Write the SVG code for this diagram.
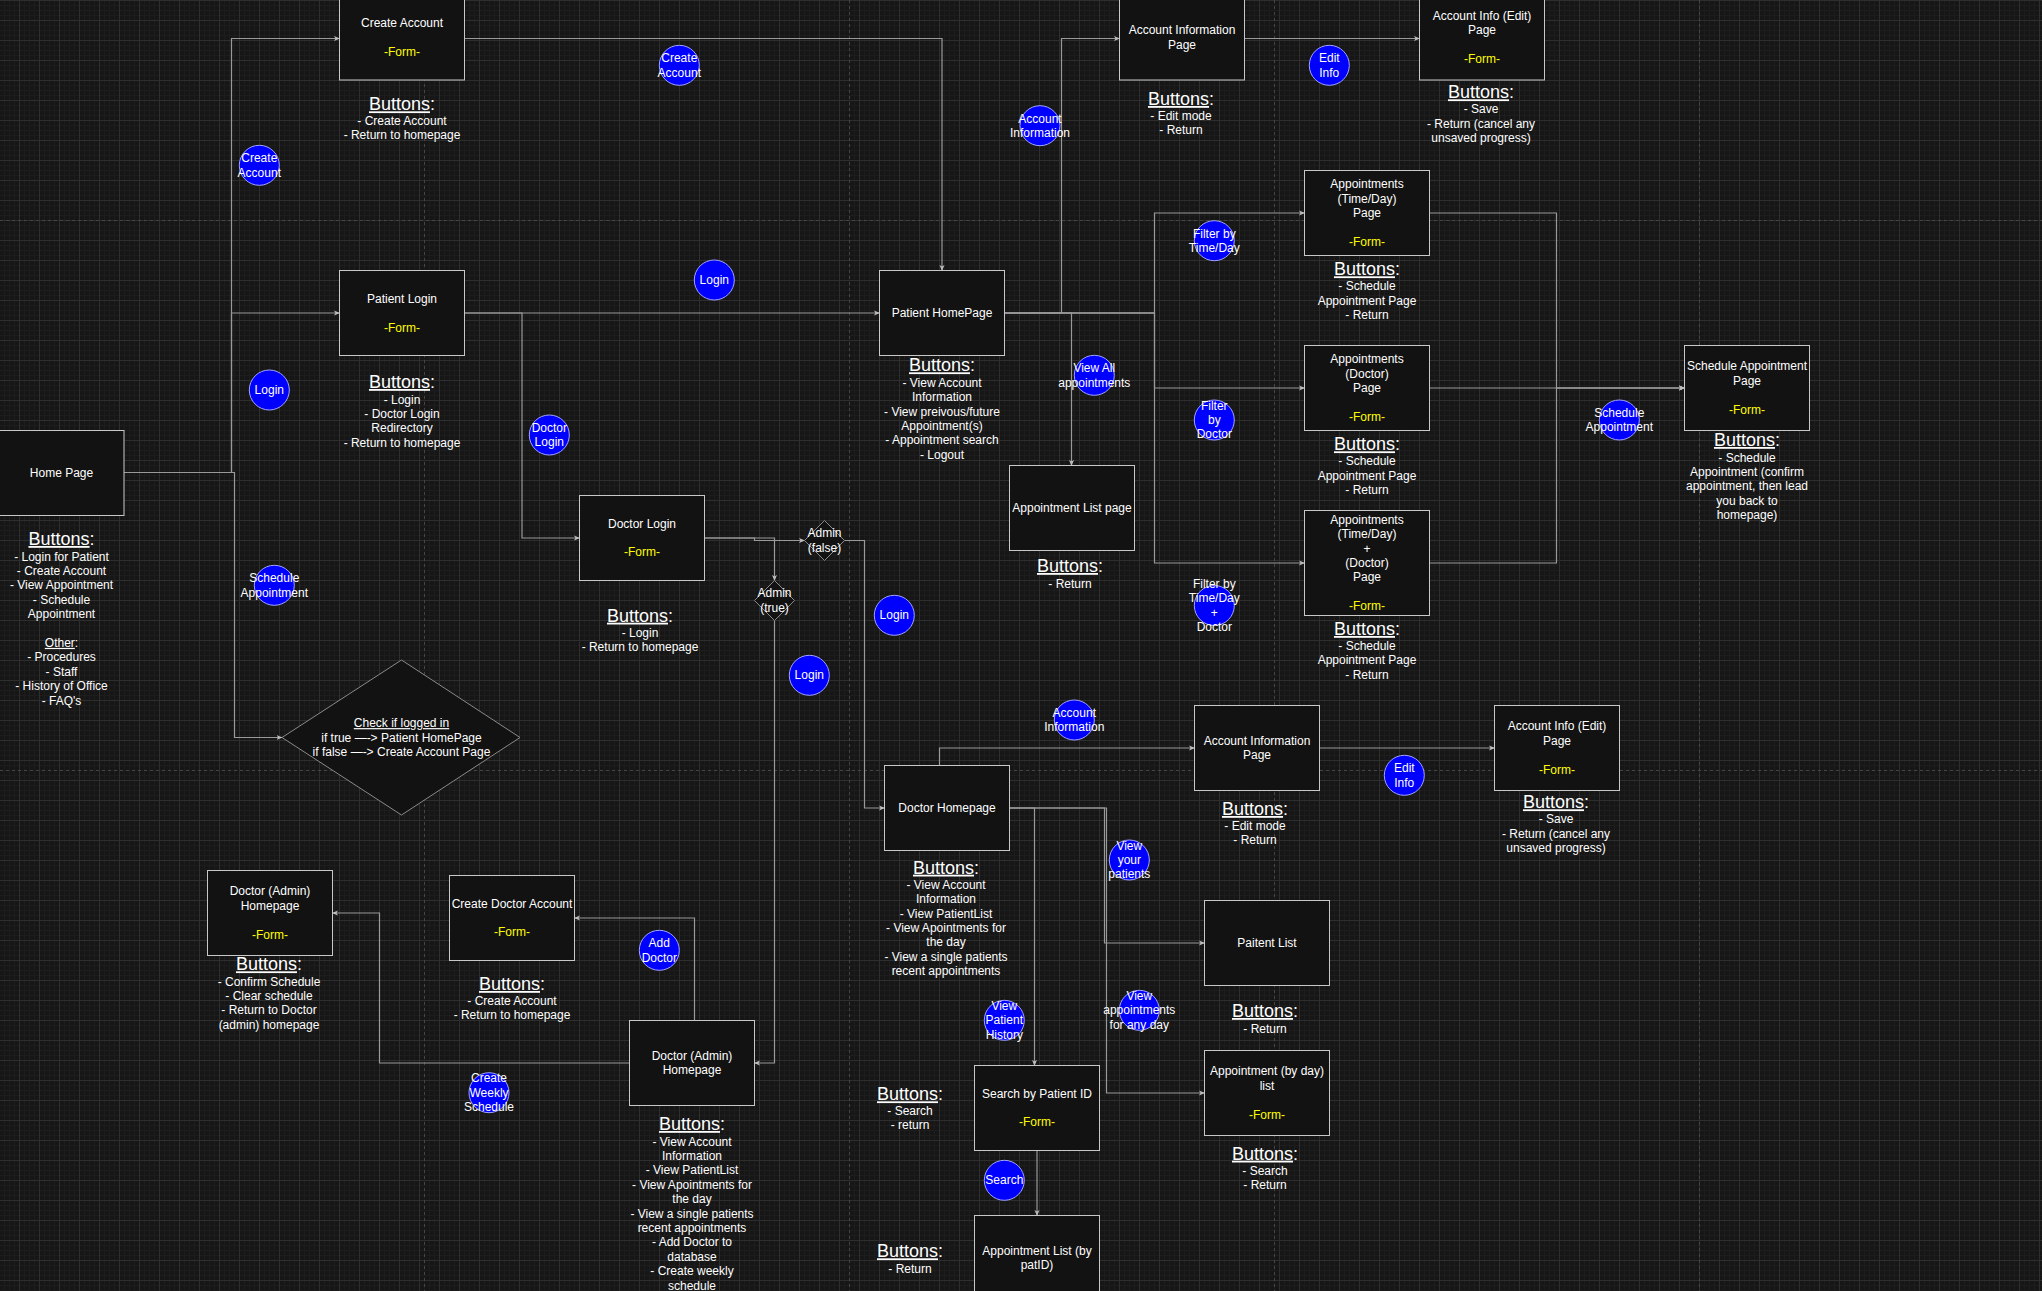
<svg xmlns="http://www.w3.org/2000/svg" width="2042" height="1291" viewBox="0 0 2042 1291">
<style>
.bx{fill:#121212;stroke:#c8c8c8;stroke-width:1}
.dm{fill:#121212;stroke:#8a8a8a;stroke-width:1}
.ci{fill:#0000ff;stroke:#a3a3ff;stroke-width:1}
.t{font-family:"Liberation Sans",Arial,sans-serif;font-size:12px;fill:#ffffff;text-anchor:middle}
.f{fill:#ffff00}
.h{font-size:18px}
.u{text-decoration:underline}
.e{fill:none;stroke:#9a9a9a;stroke-width:1.2;marker-end:url(#a)}
</style>
<defs>
<pattern id="gm" width="5" height="5" patternUnits="userSpaceOnUse"><path d="M4.5 0V5M0 0.5H5" stroke="#1d1d1d" stroke-width="1" fill="none"/></pattern>
<pattern id="gM" width="20" height="20" patternUnits="userSpaceOnUse"><path d="M19.5 0V20M0 0.5H20" stroke="#2e2e2e" stroke-width="1" fill="none"/></pattern>
<marker id="a" viewBox="0 0 6 6" refX="5.5" refY="3" markerWidth="6" markerHeight="6" markerUnits="userSpaceOnUse" orient="auto"><path d="M0 0.5L6 3L0 5.5L1.5 3z" fill="#bdbdbd"/></marker>
</defs>
<rect width="2042" height="1291" fill="#161616"/>
<rect width="2042" height="1291" fill="url(#gm)"/>
<rect width="2042" height="1291" fill="url(#gM)"/>
<path d="M424.5 0V1291M849.5 0V1291M1274.5 0V1291M1699.5 0V1291M0 220.5H2042M0 770.5H2042" stroke="#454545" stroke-width="1" stroke-dasharray="3 3" fill="none"/>

<g id="connectors">
<path class="e" d="M124 472.5H231.5V38.5H339.5"/>
<path class="e" d="M124 472.5H231.5V313H339.5"/>
<path class="e" d="M124 472.5H234.5V737.5H282"/>
<path class="e" d="M464.5 38.5H942V270.5"/>
<path class="e" d="M464.5 313H879.5"/>
<path class="e" d="M464.5 313H522V538H579.5"/>
<path class="e" d="M1004.5 313H1061.5V38.5H1119.5"/>
<path class="e" d="M1244.5 38.5H1419.5"/>
<path class="e" d="M1004.5 313H1071.5V465.5"/>
<path class="e" d="M1004.5 313H1154.5V213H1304.5"/>
<path class="e" d="M1004.5 313H1154.5V388H1304.5"/>
<path class="e" d="M1004.5 313H1154.5V563H1304.5"/>
<path class="e" d="M1429.5 213H1556.5V388H1684.5"/>
<path class="e" d="M1429.5 388H1684.5"/>
<path class="e" d="M1429.5 563H1556.5V388H1684.5"/>
<path class="e" d="M704.5 538H754.5V540.5H804.5"/>
<path class="e" d="M704.5 538H774.5V580.5"/>
<path class="e" d="M844.5 540.5H864.5V808H884.5"/>
<path class="e" d="M774.5 620.5V1063H754.5"/>
<path class="e" d="M939.5 765.5V748H1194.5"/>
<path class="e" d="M1319.5 748H1494.5"/>
<path class="e" d="M1009.5 808H1034.5V1065.5"/>
<path class="e" d="M1009.5 808H1104.5V943H1204.5"/>
<path class="e" d="M1009.5 808H1106.5V1093H1204.5"/>
<path class="e" d="M1037 1150.5V1215.5"/>
<path class="e" d="M694.5 1020.5V918H574.5"/>
<path class="e" d="M629.5 1063H379.5V913H332.5"/>
</g>

<g id="home">
<rect class="bx" x="-1" y="430.5" width="125" height="85"/>
<text class="t" x="61.5" y="476.5">Home Page</text>
<text class="t" x="61.5" y="545"><tspan class="h"><tspan class="u">Buttons</tspan>:</tspan><tspan x="61.5" y="560.5">- Login for Patient</tspan><tspan x="61.5" dy="14.4">- Create Account</tspan><tspan x="61.5" dy="14.4">- View Appointment</tspan><tspan x="61.5" dy="14.4">- Schedule</tspan><tspan x="61.5" dy="14.4">Appointment</tspan><tspan x="61.5" dy="28.8"><tspan class="u">Other</tspan>:</tspan><tspan x="61.5" dy="14.4">- Procedures</tspan><tspan x="61.5" dy="14.4">- Staff</tspan><tspan x="61.5" dy="14.4">- History of Office</tspan><tspan x="61.5" dy="14.4">- FAQ's</tspan></text>
</g>

<g id="create-account">
<rect class="bx" x="339.5" y="-5" width="125" height="85"/>
<text class="t" x="402" y="26.7">Create Account</text>
<text class="t f" x="402" y="55.7">-Form-</text>
<text class="t" x="402" y="110.3"><tspan class="h"><tspan class="u">Buttons</tspan>:</tspan><tspan x="402" y="125">- Create Account</tspan><tspan x="402" dy="14.4">- Return to homepage</tspan></text>
</g>

<g id="patient-login">
<rect class="bx" x="339.5" y="270.5" width="125" height="85"/>
<text class="t" x="402" y="302.5">Patient Login</text>
<text class="t f" x="402" y="331.5">-Form-</text>
<text class="t" x="402" y="388"><tspan class="h"><tspan class="u">Buttons</tspan>:</tspan><tspan x="402" y="403.5">- Login</tspan><tspan x="402" dy="14.4">- Doctor Login</tspan><tspan x="402" dy="14.4">Redirectory</tspan><tspan x="402" dy="14.4">- Return to homepage</tspan></text>
</g>

<g id="patient-homepage">
<rect class="bx" x="879.5" y="270.5" width="125" height="85"/>
<text class="t" x="942" y="317">Patient HomePage</text>
<text class="t" x="942" y="371.3"><tspan class="h"><tspan class="u">Buttons</tspan>:</tspan><tspan x="942" y="386.7">- View Account</tspan><tspan x="942" dy="14.4">Information</tspan><tspan x="942" dy="14.4">- View preivous/future</tspan><tspan x="942" dy="14.4">Appointment(s)</tspan><tspan x="942" dy="14.4">- Appointment search</tspan><tspan x="942" dy="14.4">- Logout</tspan></text>
</g>

<g id="account-info">
<rect class="bx" x="1119.5" y="-5" width="125" height="85"/>
<text class="t" x="1182" y="34.3">Account Information<tspan x="1182" dy="14.4">Page</tspan></text>
<text class="t" x="1181" y="105"><tspan class="h"><tspan class="u">Buttons</tspan>:</tspan><tspan x="1181" y="120">- Edit mode</tspan><tspan x="1181" dy="14.4">- Return</tspan></text>
</g>

<g id="account-edit">
<rect class="bx" x="1419.5" y="-5" width="125" height="85"/>
<text class="t" x="1482" y="19.9">Account Info (Edit)<tspan x="1482" dy="14.4">Page</tspan></text>
<text class="t f" x="1482" y="63.1">-Form-</text>
<text class="t" x="1481" y="98.3"><tspan class="h"><tspan class="u">Buttons</tspan>:</tspan><tspan x="1481" y="113.3">- Save</tspan><tspan x="1481" dy="14.4">- Return (cancel any</tspan><tspan x="1481" dy="14.4">unsaved progress)</tspan></text>
</g>

<g id="appt-timeday">
<rect class="bx" x="1304.5" y="170.5" width="125" height="85"/>
<text class="t" x="1367" y="188.2">Appointments<tspan x="1367" dy="14.4">(Time/Day)</tspan><tspan x="1367" dy="14.4">Page</tspan></text>
<text class="t f" x="1367" y="245.8">-Form-</text>
<text class="t" x="1367" y="275.3"><tspan class="h"><tspan class="u">Buttons</tspan>:</tspan><tspan x="1367" y="290.3">- Schedule</tspan><tspan x="1367" dy="14.4">Appointment Page</tspan><tspan x="1367" dy="14.4">- Return</tspan></text>
</g>

<g id="appt-doctor">
<rect class="bx" x="1304.5" y="345.5" width="125" height="85"/>
<text class="t" x="1367" y="363.2">Appointments<tspan x="1367" dy="14.4">(Doctor)</tspan><tspan x="1367" dy="14.4">Page</tspan></text>
<text class="t f" x="1367" y="420.8">-Form-</text>
<text class="t" x="1367" y="450.3"><tspan class="h"><tspan class="u">Buttons</tspan>:</tspan><tspan x="1367" y="465.3">- Schedule</tspan><tspan x="1367" dy="14.4">Appointment Page</tspan><tspan x="1367" dy="14.4">- Return</tspan></text>
</g>

<g id="appt-timeday-doctor">
<rect class="bx" x="1304.5" y="510.5" width="125" height="105"/>
<text class="t" x="1367" y="523.8">Appointments<tspan x="1367" dy="14.4">(Time/Day)</tspan><tspan x="1367" dy="14.4">+</tspan><tspan x="1367" dy="14.4">(Doctor)</tspan><tspan x="1367" dy="14.4">Page</tspan></text>
<text class="t f" x="1367" y="610.2">-Form-</text>
<text class="t" x="1367" y="635"><tspan class="h"><tspan class="u">Buttons</tspan>:</tspan><tspan x="1367" y="650">- Schedule</tspan><tspan x="1367" dy="14.4">Appointment Page</tspan><tspan x="1367" dy="14.4">- Return</tspan></text>
</g>

<g id="schedule-appointment">
<rect class="bx" x="1684.5" y="345.5" width="125" height="85"/>
<text class="t" x="1747" y="370.4">Schedule Appointment<tspan x="1747" dy="14.4">Page</tspan></text>
<text class="t f" x="1747" y="413.6">-Form-</text>
<text class="t" x="1747" y="446"><tspan class="h"><tspan class="u">Buttons</tspan>:</tspan><tspan x="1747" y="461.5">- Schedule</tspan><tspan x="1747" dy="14.4">Appointment (confirm</tspan><tspan x="1747" dy="14.4">appointment, then lead</tspan><tspan x="1747" dy="14.4">you back to</tspan><tspan x="1747" dy="14.4">homepage)</tspan></text>
</g>

<g id="appointment-list">
<rect class="bx" x="1009.5" y="465.5" width="125" height="85"/>
<text class="t" x="1072" y="512">Appointment List page</text>
<text class="t" x="1070" y="572"><tspan class="h"><tspan class="u">Buttons</tspan>:</tspan><tspan x="1070" y="587.5">- Return</tspan></text>
</g>

<g id="check-logged-in">
<polygon class="dm" points="282,737.5 401.5,660 520,737.5 401.5,815"/>
<text class="t" x="401.5" y="727.1"><tspan class="u">Check if logged in</tspan><tspan x="401.5" dy="14.4">if true —-&gt; Patient HomePage</tspan><tspan x="401.5" dy="14.4">if false —-&gt; Create Account Page</tspan></text>
</g>

<g id="doctor-login">
<rect class="bx" x="579.5" y="495.5" width="125" height="85"/>
<text class="t" x="642" y="527.6">Doctor Login</text>
<text class="t f" x="642" y="556.4">-Form-</text>
<text class="t" x="640" y="621.7"><tspan class="h"><tspan class="u">Buttons</tspan>:</tspan><tspan x="640" y="637">- Login</tspan><tspan x="640" dy="14.4">- Return to homepage</tspan></text>
</g>

<g id="admin-false">
<polygon class="dm" points="804.5,540.5 824.5,520.5 844.5,540.5 824.5,560.5"/>
<text class="t" x="824.5" y="537.3">Admin<tspan x="824.5" dy="14.4">(false)</tspan></text>
</g>

<g id="admin-true">
<polygon class="dm" points="754.5,600.5 774.5,580.5 794.5,600.5 774.5,620.5"/>
<text class="t" x="774.5" y="597.3">Admin<tspan x="774.5" dy="14.4">(true)</tspan></text>
</g>

<g id="doctor-homepage">
<rect class="bx" x="884.5" y="765.5" width="125" height="85"/>
<text class="t" x="947" y="812">Doctor Homepage</text>
<text class="t" x="946" y="873.7"><tspan class="h"><tspan class="u">Buttons</tspan>:</tspan><tspan x="946" y="888.7">- View Account</tspan><tspan x="946" dy="14.4">Information</tspan><tspan x="946" dy="14.4">- View PatientList</tspan><tspan x="946" dy="14.4">- View Apointments for</tspan><tspan x="946" dy="14.4">the day</tspan><tspan x="946" dy="14.4">- View a single patients</tspan><tspan x="946" dy="14.4">recent appointments</tspan></text>
</g>

<g id="doctor-account-info">
<rect class="bx" x="1194.5" y="705.5" width="125" height="85"/>
<text class="t" x="1257" y="744.8">Account Information<tspan x="1257" dy="14.4">Page</tspan></text>
<text class="t" x="1255" y="815"><tspan class="h"><tspan class="u">Buttons</tspan>:</tspan><tspan x="1255" y="830">- Edit mode</tspan><tspan x="1255" dy="14.4">- Return</tspan></text>
</g>

<g id="doctor-account-edit">
<rect class="bx" x="1494.5" y="705.5" width="125" height="85"/>
<text class="t" x="1557" y="730.4">Account Info (Edit)<tspan x="1557" dy="14.4">Page</tspan></text>
<text class="t f" x="1557" y="773.6">-Form-</text>
<text class="t" x="1556" y="808.3"><tspan class="h"><tspan class="u">Buttons</tspan>:</tspan><tspan x="1556" y="823.3">- Save</tspan><tspan x="1556" dy="14.4">- Return (cancel any</tspan><tspan x="1556" dy="14.4">unsaved progress)</tspan></text>
</g>

<g id="patient-list">
<rect class="bx" x="1204.5" y="900.5" width="125" height="85"/>
<text class="t" x="1267" y="947">Paitent List</text>
<text class="t" x="1265" y="1017"><tspan class="h"><tspan class="u">Buttons</tspan>:</tspan><tspan x="1265" y="1032.5">- Return</tspan></text>
</g>

<g id="appt-by-day">
<rect class="bx" x="1204.5" y="1050.5" width="125" height="85"/>
<text class="t" x="1267" y="1075.4">Appointment (by day)<tspan x="1267" dy="14.4">list</tspan></text>
<text class="t f" x="1267" y="1118.6">-Form-</text>
<text class="t" x="1265" y="1159.7"><tspan class="h"><tspan class="u">Buttons</tspan>:</tspan><tspan x="1265" y="1174.7">- Search</tspan><tspan x="1265" dy="14.4">- Return</tspan></text>
</g>

<g id="search-patient">
<rect class="bx" x="974.5" y="1065.5" width="125" height="85"/>
<text class="t" x="1037" y="1097.6">Search by Patient ID</text>
<text class="t f" x="1037" y="1126.4">-Form-</text>
<text class="t" x="910" y="1100.3"><tspan class="h"><tspan class="u">Buttons</tspan>:</tspan><tspan x="910" y="1115">- Search</tspan><tspan x="910" dy="14.4">- return</tspan></text>
</g>

<g id="appt-list-patid">
<rect class="bx" x="974.5" y="1215.5" width="125" height="85"/>
<text class="t" x="1037" y="1254.8">Appointment List (by<tspan x="1037" dy="14.4">patID)</tspan></text>
<text class="t" x="910" y="1257.3"><tspan class="h"><tspan class="u">Buttons</tspan>:</tspan><tspan x="910" y="1272.5">- Return</tspan></text>
</g>

<g id="admin-homepage">
<rect class="bx" x="629.5" y="1020.5" width="125" height="85"/>
<text class="t" x="692" y="1059.8">Doctor (Admin)<tspan x="692" dy="14.4">Homepage</tspan></text>
<text class="t" x="692" y="1130"><tspan class="h"><tspan class="u">Buttons</tspan>:</tspan><tspan x="692" y="1145.5">- View Account</tspan><tspan x="692" dy="14.4">Information</tspan><tspan x="692" dy="14.4">- View PatientList</tspan><tspan x="692" dy="14.4">- View Apointments for</tspan><tspan x="692" dy="14.4">the day</tspan><tspan x="692" dy="14.4">- View a single patients</tspan><tspan x="692" dy="14.4">recent appointments</tspan><tspan x="692" dy="14.4">- Add Doctor to</tspan><tspan x="692" dy="14.4">database</tspan><tspan x="692" dy="14.4">- Create weekly</tspan><tspan x="692" dy="14.4">schedule</tspan></text>
</g>

<g id="create-doctor-account">
<rect class="bx" x="449.5" y="875.5" width="125" height="85"/>
<text class="t" x="512" y="907.6">Create Doctor Account</text>
<text class="t f" x="512" y="936.4">-Form-</text>
<text class="t" x="512" y="990"><tspan class="h"><tspan class="u">Buttons</tspan>:</tspan><tspan x="512" y="1005">- Create Account</tspan><tspan x="512" dy="14.4">- Return to homepage</tspan></text>
</g>

<g id="admin-form">
<rect class="bx" x="207.5" y="870.5" width="125" height="85"/>
<text class="t" x="270" y="895.4">Doctor (Admin)<tspan x="270" dy="14.4">Homepage</tspan></text>
<text class="t f" x="270" y="938.6">-Form-</text>
<text class="t" x="269" y="970.3"><tspan class="h"><tspan class="u">Buttons</tspan>:</tspan><tspan x="269" y="985.5">- Confirm Schedule</tspan><tspan x="269" dy="14.4">- Clear schedule</tspan><tspan x="269" dy="14.4">- Return to Doctor</tspan><tspan x="269" dy="14.4">(admin) homepage</tspan></text>
</g>

<g id="btn-create-account-1"><circle class="ci" cx="259.3" cy="165.3" r="20"/><text class="t" x="259.3" y="162.1">Create<tspan x="259.3" dy="14.4">Account</tspan></text></g>
<g id="btn-create-account-2"><circle class="ci" cx="679.3" cy="65.3" r="20"/><text class="t" x="679.3" y="62.1">Create<tspan x="679.3" dy="14.4">Account</tspan></text></g>
<g id="btn-login-1"><circle class="ci" cx="269.3" cy="390" r="20"/><text class="t" x="269.3" y="394">Login</text></g>
<g id="btn-login-2"><circle class="ci" cx="714.3" cy="280" r="20"/><text class="t" x="714.3" y="284">Login</text></g>
<g id="btn-doctor-login"><circle class="ci" cx="549.3" cy="435" r="20"/><text class="t" x="549.3" y="431.8">Doctor<tspan x="549.3" dy="14.4">Login</tspan></text></g>
<g id="btn-schedule-1"><circle class="ci" cx="274.3" cy="585.3" r="20"/><text class="t" x="274.3" y="582.1">Schedule<tspan x="274.3" dy="14.4">Appointment</tspan></text></g>
<g id="btn-account-info-1"><circle class="ci" cx="1040" cy="125.7" r="20"/><text class="t" x="1040" y="122.5">Account<tspan x="1040" dy="14.4">Information</tspan></text></g>
<g id="btn-edit-info-1"><circle class="ci" cx="1329.3" cy="65.3" r="20"/><text class="t" x="1329.3" y="62.1">Edit<tspan x="1329.3" dy="14.4">Info</tspan></text></g>
<g id="btn-filter-td"><circle class="ci" cx="1214.3" cy="240.7" r="20"/><text class="t" x="1214.3" y="237.5">Filter by<tspan x="1214.3" dy="14.4">Time/Day</tspan></text></g>
<g id="btn-view-all"><circle class="ci" cx="1094.3" cy="375.3" r="20"/><text class="t" x="1094.3" y="372.1">View All<tspan x="1094.3" dy="14.4">appointments</tspan></text></g>
<g id="btn-filter-doctor"><circle class="ci" cx="1214.3" cy="420" r="20"/><text class="t" x="1214.3" y="409.6">Filter<tspan x="1214.3" dy="14.4">by</tspan><tspan x="1214.3" dy="14.4">Doctor</tspan></text></g>
<g id="btn-schedule-2"><circle class="ci" cx="1619.3" cy="420" r="20"/><text class="t" x="1619.3" y="416.8">Schedule<tspan x="1619.3" dy="14.4">Appointment</tspan></text></g>
<g id="btn-filter-tdd"><circle class="ci" cx="1214.3" cy="605.5" r="20"/><text class="t" x="1214.3" y="587.9">Filter by<tspan x="1214.3" dy="14.4">Time/Day</tspan><tspan x="1214.3" dy="14.4">+</tspan><tspan x="1214.3" dy="14.4">Doctor</tspan></text></g>
<g id="btn-login-3"><circle class="ci" cx="894.3" cy="615.3" r="20"/><text class="t" x="894.3" y="619.3">Login</text></g>
<g id="btn-login-4"><circle class="ci" cx="809.3" cy="675.3" r="20"/><text class="t" x="809.3" y="679.3">Login</text></g>
<g id="btn-account-info-2"><circle class="ci" cx="1074.3" cy="720" r="20"/><text class="t" x="1074.3" y="716.8">Account<tspan x="1074.3" dy="14.4">Information</tspan></text></g>
<g id="btn-edit-info-2"><circle class="ci" cx="1404.3" cy="775.3" r="20"/><text class="t" x="1404.3" y="772.1">Edit<tspan x="1404.3" dy="14.4">Info</tspan></text></g>
<g id="btn-view-patients"><circle class="ci" cx="1129.3" cy="860" r="20"/><text class="t" x="1129.3" y="849.6">View<tspan x="1129.3" dy="14.4">your</tspan><tspan x="1129.3" dy="14.4">patients</tspan></text></g>
<g id="btn-view-any-day"><circle class="ci" cx="1139.3" cy="1010.3" r="20"/><text class="t" x="1139.3" y="999.9">View<tspan x="1139.3" dy="14.4">appointments</tspan><tspan x="1139.3" dy="14.4">for any day</tspan></text></g>
<g id="btn-view-history"><circle class="ci" cx="1004.3" cy="1020.3" r="20"/><text class="t" x="1004.3" y="1009.9">View<tspan x="1004.3" dy="14.4">Patient</tspan><tspan x="1004.3" dy="14.4">History</tspan></text></g>
<g id="btn-search"><circle class="ci" cx="1004.3" cy="1180.3" r="20"/><text class="t" x="1004.3" y="1184.3">Search</text></g>
<g id="btn-weekly"><circle class="ci" cx="489" cy="1092.7" r="20"/><text class="t" x="489" y="1082.3">Create<tspan x="489" dy="14.4">Weekly</tspan><tspan x="489" dy="14.4">Schedule</tspan></text></g>
<g id="btn-add-doctor"><circle class="ci" cx="659.3" cy="950.3" r="20"/><text class="t" x="659.3" y="947.1">Add<tspan x="659.3" dy="14.4">Doctor</tspan></text></g>
</svg>
